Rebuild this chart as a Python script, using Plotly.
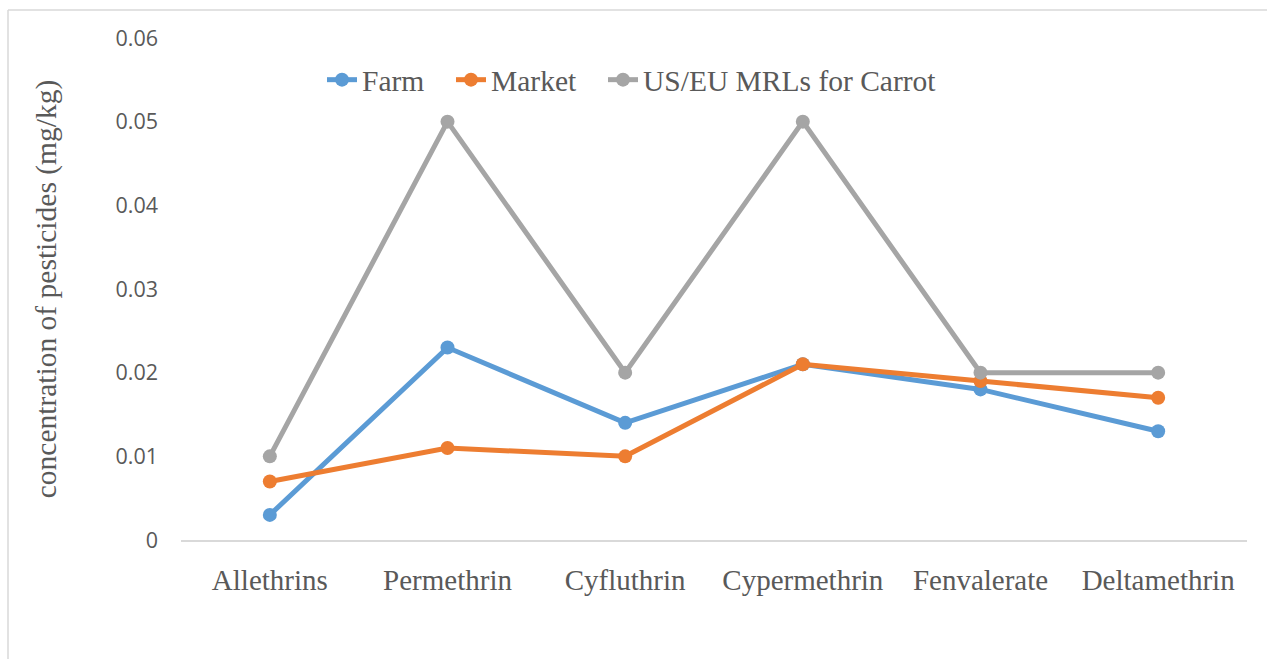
import plotly.graph_objects as go

# Pesticide residue concentrations in carrot (mg/kg)
pesticides = ["Allethrins", "Permethrin", "Cyfluthrin", "Cypermethrin", "Fenvalerate", "Deltamethrin"]
farm = [0.003, 0.023, 0.014, 0.021, 0.018, 0.013]
market = [0.007, 0.011, 0.010, 0.021, 0.019, 0.017]
mrl_us_eu = [0.01, 0.05, 0.02, 0.05, 0.02, 0.02]
y_ticks = [0, 0.01, 0.02, 0.03, 0.04, 0.05, 0.06]
y_tick_labels = ["0", "0.01", "0.02", "0.03", "0.04", "0.05", "0.06"]

serif = "Liberation Serif, Times New Roman, serif"
text_color = "#595959"

W, H = 1267, 659
ml, mr, mt, mb = 181, 20, 38, 119
pw, ph = W - ml - mr, H - mt - mb

def px_x(p):
    return (p - ml) / pw

def px_y(p):
    return (H - mb - p) / ph

# one legend per series so each entry can be placed along the top row
series = [
    ("Farm", farm, "#5B9BD5", "legend", 322),
    ("Market", market, "#ED7D31", "legend2", 451),
    ("US/EU MRLs for Carrot", mrl_us_eu, "#A5A5A5", "legend3", 603),
]

fig = go.Figure()
legend_layout = {}
for name, values, color, legend_id, legend_px in series:
    fig.add_trace(go.Scatter(
        x=pesticides, y=values, name=name, mode="lines+markers",
        line=dict(color=color, width=5),
        marker=dict(color=color, size=14),
        legend=legend_id,
    ))
    legend_layout[legend_id] = dict(
        orientation="h", x=px_x(legend_px), y=px_y(80), xanchor="left", yanchor="middle",
        font=dict(family=serif, size=29.5, color=text_color),
        bgcolor="rgba(0,0,0,0)",
    )

# Light frame around the chart area (top and left edges visible)
frame = dict(color="#D9D9D9", width=1.5)
fig.add_shape(type="line", xref="paper", yref="paper",
              x0=px_x(8), x1=px_x(1300), y0=px_y(10), y1=px_y(10), line=frame)
fig.add_shape(type="line", xref="paper", yref="paper",
              x0=px_x(8), x1=px_x(8), y0=px_y(10), y1=px_y(700), line=frame)

fig.update_layout(
    width=W, height=H,
    margin=dict(l=ml, r=mr, t=mt, b=mb, pad=0),
    paper_bgcolor="white", plot_bgcolor="white",
    showlegend=True,
    xaxis=dict(
        type="category", range=[-0.5, 5.5],
        showgrid=False, zeroline=False,
        showline=True, linecolor="#D9D9D9", linewidth=1.5,
        ticks="", ticklabelstandoff=13,
        tickfont=dict(family=serif, size=29, color=text_color),
    ),
    yaxis=dict(
        range=[0, 0.06], tickvals=y_ticks, ticktext=y_tick_labels,
        showgrid=False, zeroline=False, showline=False,
        ticks="", ticklabelstandoff=22,
        tickfont=dict(family="Open Sans, sans-serif", size=21.5, color=text_color),
        title=dict(text="concentration of pesticides (mg/kg)", standoff=50,
                   font=dict(family=serif, size=29.5, color=text_color)),
    ),
    **legend_layout,
)

fig.write_html("out.html")
